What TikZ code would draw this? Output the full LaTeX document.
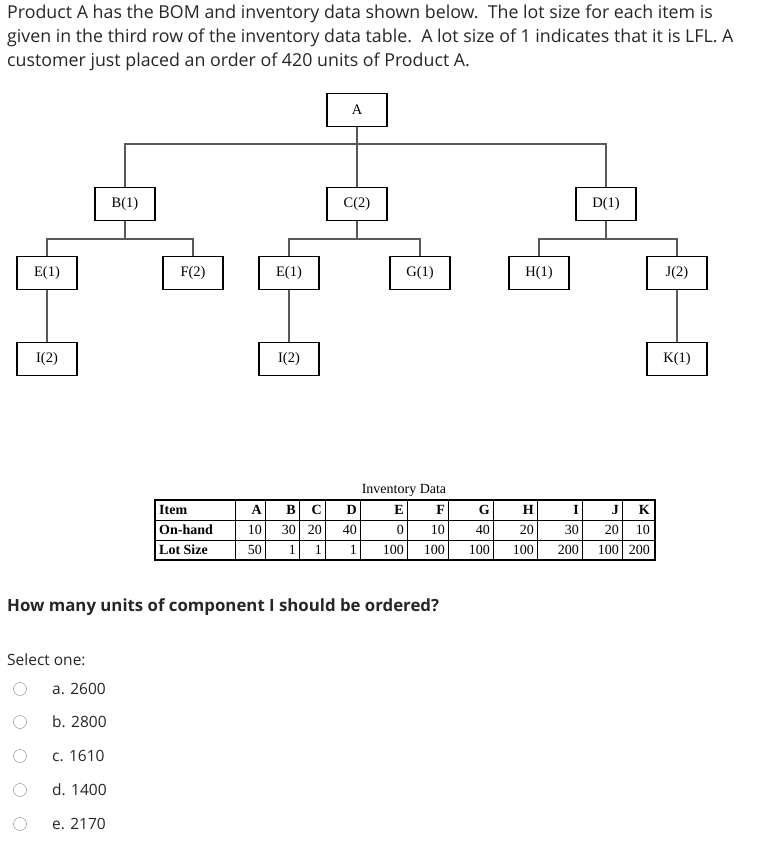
\documentclass[tikz,border=0pt]{standalone}
\usepackage{fontspec}
\setmainfont{Open Sans}
\newfontfamily\tms{Liberation Serif}
\begin{document}
\begin{tikzpicture}[x=1pt,y=-1pt,
  bx/.style={draw,line width=1.2pt,minimum width=60pt,minimum height=33pt,inner sep=0pt,font=\tms\fontsize{14.5}{16}\selectfont},
  ln/.style={line width=1.2pt,gray!70!black},
  txt/.style={anchor=west,inner sep=0pt,font=\fontsize{17.8}{20}\selectfont,text=black!85},
  opt/.style={anchor=west,inner sep=0pt,font=\fontsize{15.5}{18}\selectfont,text=black!85},
  rad/.style={draw=gray,circle,minimum size=13pt,inner sep=0pt},
  tc/.style={font=\tms\fontsize{14}{15}\selectfont,inner sep=0pt},
  tb/.style={font=\tms\bfseries\fontsize{14}{15}\selectfont,inner sep=0pt}]
\useasboundingbox (0,0) rectangle (756,843);
\node[txt] (t1) at (7,14) {Product A has the BOM and inventory data shown below.\ \ The lot size for each item is};
\node[txt] (t2) at (7,38) {given in the third row of the inventory data table.\ \ A lot size of 1 indicates that it is LFL.\ A};
\node[txt] (t3) at (7,62) {customer just placed an order of 420 units of Product A.};
\node[bx] (A) at (357,110) {A};
\node[bx] (B) at (125,204) {B(1)};
\node[bx] (C) at (357,204) {C(2)};
\node[bx] (D) at (606,204) {D(1)};
\node[bx] (E1) at (47,273) {E(1)};
\node[bx] (F) at (193,273) {F(2)};
\node[bx] (E2) at (289,273) {E(1)};
\node[bx] (G) at (420,273) {G(1)};
\node[bx] (H) at (539,273) {H(1)};
\node[bx] (J) at (677,273) {J(2)};
\node[bx] (I1) at (47,359) {I(2)};
\node[bx] (I2) at (289,359) {I(2)};
\node[bx] (K) at (677,359) {K(1)};
\coordinate (la) at (0,144); \coordinate (lb) at (0,239);
\draw[ln] (A.south) -- (A.south|-la);
\draw[ln] (B.north) |- (D.north|-la) -- (D.north);
\draw[ln] (C.north) -- (C.north|-la);
\draw[ln] (B.south) -- (B.south|-lb);
\draw[ln] (E1.north) |- (F.north|-lb) -- (F.north);
\draw[ln] (C.south) -- (C.south|-lb);
\draw[ln] (E2.north) |- (G.north|-lb) -- (G.north);
\draw[ln] (D.south) -- (D.south|-lb);
\draw[ln] (H.north) |- (J.north|-lb) -- (J.north);
\draw[ln] (E1) -- (I1); \draw[ln] (E2) -- (I2); \draw[ln] (J) -- (K);
% table
\node[tc] (tt) at (404,490) {Inventory Data};
\draw[line width=1.2pt] (155,500) rectangle (655,560);
\draw[line width=0.8pt] (155,520) -- (655,520) (155,540) -- (655,540);
\foreach \x in {235,265,299,325,360,407,448,493,537,582,622}
  \draw[line width=0.8pt] (\x,500) -- (\x,560);
\node[tb,anchor=west] (r1) at (159,510) {Item};
\node[tb,anchor=west] (r2) at (159,530) {On-hand};
\node[tb,anchor=west] (r3) at (159,550) {Lot Size};
\foreach \r/\a/\b/\c [count=\i] in {265/A/10/50,299/B/30/1,325/C/20/1,360/D/40/1,407/E/0/100,448/F/10/100,493/G/40/100,537/H/20/100,582/I/30/200,622/J/20/100,653/K/10/200}{
  \node[tb,anchor=east] at (\r-3,510) {\a};
  \node[tc,anchor=east] at (\r-3,530) {\b};
  \node[tc,anchor=east] at (\r-3,550) {\c};}
\node[txt,font=\bfseries\fontsize{16.8}{19}\selectfont] (q) at (7,607) {How many units of component I should be ordered?};
\node[opt] (sel) at (7,660) {Select one:};
\foreach \y/\t [count=\i] in {689/a. 2600,722/b. 2800,756/c. 1610,790/d. 1400,824/e. 2170}{
  \node[rad] (r\i) at (20,\y) {};
  \node[opt] (o\i) at (52,\y) {\t};}
\end{tikzpicture}
\end{document}
